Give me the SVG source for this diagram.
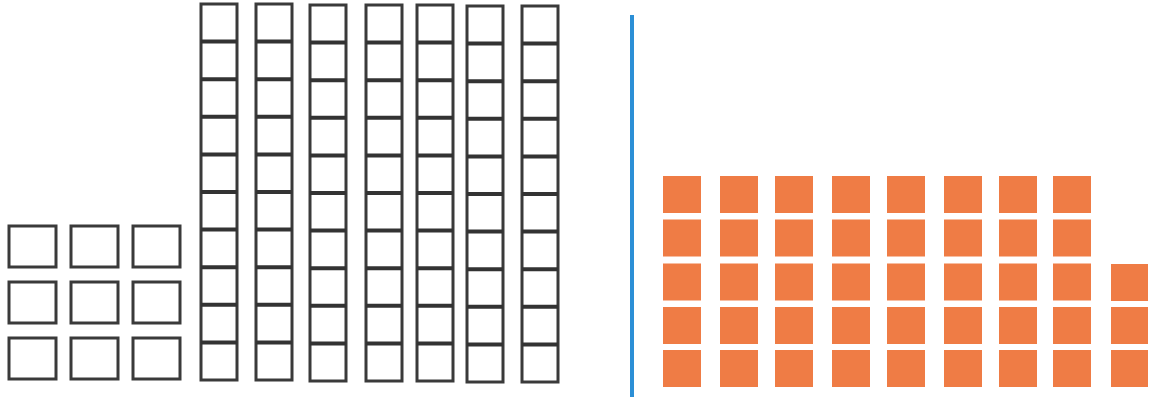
<svg xmlns="http://www.w3.org/2000/svg" width="1154" height="397" viewBox="0 0 1154 397">
<style>
.u{fill:#fff;stroke:#3a3a3a;stroke-width:3}
.d{stroke:#333;stroke-width:4}
.o{fill:#ef7c45}
</style>
<defs>
<g id="col">
<rect class="u" x="0" y="0" width="36" height="376"/>
<g class="d">
<line x1="0" y1="37.6" x2="36" y2="37.6"/><line x1="0" y1="75.2" x2="36" y2="75.2"/>
<line x1="0" y1="112.8" x2="36" y2="112.8"/><line x1="0" y1="150.4" x2="36" y2="150.4"/>
<line x1="0" y1="188" x2="36" y2="188"/><line x1="0" y1="225.6" x2="36" y2="225.6"/>
<line x1="0" y1="263.2" x2="36" y2="263.2"/><line x1="0" y1="300.8" x2="36" y2="300.8"/>
<line x1="0" y1="338.4" x2="36" y2="338.4"/>
</g>
</g>
<g id="ocol"><rect class="o" x="0" y="0" width="38" height="37"/><rect class="o" x="0" y="43.5" width="38" height="37"/><rect class="o" x="0" y="87.5" width="38" height="37"/><rect class="o" x="0" y="131" width="38" height="37"/><rect class="o" x="0" y="174" width="38" height="37"/></g>
</defs>
<rect width="1154" height="397" fill="#fff"/>
<g id="ones">
<rect class="u" x="9" y="226" width="47" height="41"/><rect class="u" x="71" y="226" width="47" height="41"/><rect class="u" x="133" y="226" width="47" height="41"/>
<rect class="u" x="9" y="282" width="47" height="41"/><rect class="u" x="71" y="282" width="47" height="41"/><rect class="u" x="133" y="282" width="47" height="41"/>
<rect class="u" x="9" y="338" width="47" height="41"/><rect class="u" x="71" y="338" width="47" height="41"/><rect class="u" x="133" y="338" width="47" height="41"/>
</g>
<g id="tens">
<use href="#col" x="201" y="4"/><use href="#col" x="256" y="4"/><use href="#col" x="310" y="5"/>
<use href="#col" x="366" y="5"/><use href="#col" x="417" y="5"/><use href="#col" x="467" y="6"/>
<use href="#col" x="522" y="6"/>
</g>
<g id="divider"><line x1="632" y1="15" x2="632" y2="397" stroke="#2b8fd6" stroke-width="4"/></g>
<g id="orange">
<use href="#ocol" x="663" y="176"/><use href="#ocol" x="720" y="176"/><use href="#ocol" x="775" y="176"/>
<use href="#ocol" x="832" y="176"/><use href="#ocol" x="887" y="176"/><use href="#ocol" x="944" y="176"/>
<use href="#ocol" x="999" y="176"/><use href="#ocol" x="1053" y="176"/>
<rect class="o" x="1111" y="264" width="37" height="37"/><rect class="o" x="1111" y="307" width="37" height="37"/><rect class="o" x="1111" y="350" width="37" height="37"/>
</g>
</svg>
